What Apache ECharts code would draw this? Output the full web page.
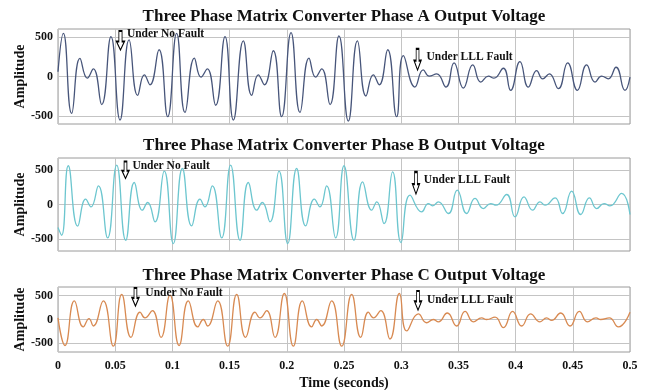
<!DOCTYPE html>
<html><head><meta charset="utf-8">
<script src="https://cdn.jsdelivr.net/npm/echarts@6/dist/echarts.min.js"></script>
<style>html,body{margin:0;padding:0;background:#fff}#c{width:648px;height:390px}</style>
</head><body><div id="c"></div>
<script>
const titles = [
  'Three Phase Matrix Converter Phase A Output Voltage',
  'Three Phase Matrix Converter Phase B Output Voltage',
  'Three Phase Matrix Converter Phase C Output Voltage'
];
const yTicks = [-500, 0, 500];
const xTicks = [0, 0.05, 0.1, 0.15, 0.2, 0.25, 0.3, 0.35, 0.4, 0.45, 0.5];
const yName = 'Amplitude';
const xName = 'Time (seconds)';
const noFaultText = 'Under No Fault';
const faultText = 'Under LLL Fault';

const phaseA = [[0,60],[0.0047,546],[0.0119,-467],[0.0192,229],[0.0256,-21],[0.0309,96],[0.0382,-354],[0.0463,504],[0.0542,-550],[0.0621,463],[0.0696,-238],[0.0755,21],[0.0804,-104],[0.0883,338],[0.0959,-508],[0.1037,546],[0.1110,-454],[0.1192,233],[0.1250,-8],[0.1305,96],[0.1378,-363],[0.1460,504],[0.1533,-550],[0.1620,450],[0.1693,-238],[0.1751,21],[0.1804,-104],[0.1882,325],[0.1955,-508],[0.2037,554],[0.2115,-454],[0.2194,233],[0.2252,-8],[0.2305,96],[0.2378,-354],[0.2456,513],[0.2538,-563],[0.2617,450],[0.2692,-246],[0.2756,21],[0.2808,-104],[0.2882,338],[0.2960,-508],[0.3019,263],[0.3120,-133],[0.3192,83],[0.3245,4],[0.3310,33],[0.3392,-133],[0.3462,171],[0.3543,-146],[0.3625,146],[0.3695,-71],[0.3762,4],[0.3811,-21],[0.3893,104],[0.3957,-175],[0.4038,188],[0.4111,-133],[0.4184,75],[0.4237,-29],[0.4295,33],[0.4374,-154],[0.4455,171],[0.4540,-175],[0.4621,146],[0.4694,-71],[0.4752,4],[0.4810,-29],[0.4878,117],[0.4956,-175],[0.5,-8]];
const phaseB = [[0,-330],[0.0032,-443],[0.0090,558],[0.0172,-313],[0.0242,77],[0.0288,-34],[0.0353,269],[0.0434,-481],[0.0513,568],[0.0592,-515],[0.0667,317],[0.0737,-82],[0.0784,29],[0.0848,-250],[0.0929,481],[0.1008,-563],[0.1087,519],[0.1168,-308],[0.1241,77],[0.1285,-34],[0.1349,269],[0.1431,-481],[0.1509,568],[0.1591,-515],[0.1664,317],[0.1737,-82],[0.1786,29],[0.1853,-250],[0.1932,481],[0.2008,-563],[0.2086,519],[0.2165,-308],[0.2241,77],[0.2290,-34],[0.2348,269],[0.2427,-481],[0.2500,558],[0.2587,-515],[0.2663,327],[0.2742,-82],[0.2786,38],[0.2850,-274],[0.2925,471],[0.2998,-548],[0.3077,135],[0.3179,-106],[0.3237,14],[0.3275,-19],[0.3325,38],[0.3412,-130],[0.3490,207],[0.3572,-130],[0.3645,87],[0.3718,-58],[0.3782,14],[0.3829,-10],[0.3922,144],[0.3995,-178],[0.4073,111],[0.4149,-82],[0.4213,38],[0.4257,-10],[0.4345,96],[0.4411,-130],[0.4490,192],[0.4569,-144],[0.4645,96],[0.4709,-58],[0.4773,14],[0.4825,-19],[0.4927,159],[0.5,-144]];
const phaseC = [[0,34],[0.0061,-544],[0.0143,388],[0.0221,-156],[0.0271,20],[0.0309,-136],[0.0396,388],[0.0484,-558],[0.0557,524],[0.0638,-374],[0.0717,156],[0.0760,34],[0.0825,184],[0.0900,-374],[0.0979,510],[0.1058,-544],[0.1139,388],[0.1221,-156],[0.1270,0],[0.1308,-136],[0.1396,388],[0.1483,-558],[0.1562,524],[0.1640,-374],[0.1722,156],[0.1766,34],[0.1824,184],[0.1897,-374],[0.1978,544],[0.2057,-558],[0.2136,388],[0.2217,-156],[0.2261,0],[0.2305,-136],[0.2392,388],[0.2480,-558],[0.2567,524],[0.2646,-374],[0.2713,156],[0.2757,34],[0.2821,184],[0.2902,-408],[0.2984,544],[0.3048,-238],[0.3150,116],[0.3222,-68],[0.3280,0],[0.3325,-48],[0.3403,136],[0.3485,-136],[0.3558,170],[0.3631,-48],[0.3703,34],[0.3747,0],[0.3820,48],[0.3893,-170],[0.3974,170],[0.4053,-136],[0.4131,116],[0.4213,-48],[0.4271,34],[0.4315,-20],[0.4394,136],[0.4476,-136],[0.4557,170],[0.4627,-48],[0.4703,34],[0.4744,0],[0.4819,34],[0.4898,-156],[0.5,150]];

// annotation anchor points in data space: [time, value]
const noFaultPos = [[0.0546, 455], [0.0590, 497], [0.0677, 471]];
const faultPos = [[0.3143, 215], [0.3129, 310], [0.3147, 398]];

const FONT = 'Liberation Serif';
const colors = ['#47557a', '#6cc6cf', '#d88a52'];
const series = [phaseA, phaseB, phaseC];
const grids = [
  {left: 58, right: 18, top: 29, height: 95},
  {left: 58, right: 18, top: 158, height: 93},
  {left: 58, right: 18, top: 287, height: 65}
];
const yRanges = [[-600, 600], [-670, 670], [-680, 680]];
const titleTops = [8, 137, 267];
const arrowPath = 'path://M3,0 L7,0 L7,11 L10,11 L5,20 L0,11 L3,11 Z';
const arrowSizes = [[[8,19],[7,21]], [[7,17],[7,22]], [[7,18],[7,19]]];
const labelTweaks = [[[2,-6],[5,-2]], [[3,-4],[4,-3]], [[6,-4],[5,0]]];

const chart = echarts.init(document.getElementById('c'), null, {renderer: 'canvas'});
const option = {
  animation: false,
  backgroundColor: '#fff',
  title: titles.map((t, i) => ({
    text: t, left: 344, top: titleTops[i], textAlign: 'center', padding: 0,
    textStyle: {fontFamily: FONT, fontWeight: 'bold', fontSize: 17, color: '#111'}
  })),
  grid: grids.map(g => Object.assign({show: true, borderColor: '#9a9a9a', borderWidth: 1, backgroundColor: '#fff', outerBoundsMode: 'none', containLabel: false}, g)),
  xAxis: grids.map((g, i) => ({
    type: 'value', gridIndex: i, min: 0, max: 0.5, interval: 0.05,
    axisLine: {show: false}, axisTick: {show: false},
    axisLabel: {show: i === 2, fontFamily: FONT, fontWeight: 'bold', fontSize: 12, color: '#111', margin: 8,
      formatter: v => { const k = xTicks.find(x => Math.abs(x - v) < 1e-9); return k === undefined ? '' : String(k); }},
    splitLine: {show: true, lineStyle: {color: '#c4c4c4', width: 1}},
    name: i === 2 ? xName : '', nameLocation: 'middle', nameGap: 24, nameMoveOverlap: false,
    nameTextStyle: {fontFamily: FONT, fontWeight: 'bold', fontSize: 14, color: '#111'}
  })),
  yAxis: grids.map((g, i) => ({
    type: 'value', gridIndex: i, min: yRanges[i][0], max: yRanges[i][1],
    axisLine: {show: false},
    axisTick: {show: false, customValues: yTicks},
    axisLabel: {show: true, customValues: yTicks, fontFamily: FONT, fontWeight: 'bold', fontSize: 12, color: '#111', margin: 5},
    splitLine: {show: true, lineStyle: {color: '#c4c4c4', width: 1}},
    name: yName, nameLocation: 'middle', nameGap: 31, nameRotate: 90, nameMoveOverlap: false,
    nameTextStyle: {fontFamily: FONT, fontWeight: 'bold', fontSize: 14, color: '#111'}
  })),
  series: series.map((d, i) => ({
    type: 'line', xAxisIndex: i, yAxisIndex: i, data: d,
    showSymbol: false, smooth: 0.5, clip: true,
    lineStyle: {color: colors[i], width: 1.3},
    markPoint: {
      symbol: arrowPath, symbolKeepAspect: false, silent: true,
      itemStyle: {color: '#fff', borderColor: '#000', borderWidth: 1.3},
      label: {show: true, position: 'right', fontFamily: FONT, fontWeight: 'bold', fontSize: 11.5, color: '#111'},
      data: [
        {coord: noFaultPos[i], symbolSize: arrowSizes[i][0],
         label: {formatter: noFaultText, distance: labelTweaks[i][0][0], offset: [0, labelTweaks[i][0][1]]}},
        {coord: faultPos[i], symbolSize: arrowSizes[i][1],
         label: {formatter: faultText, distance: labelTweaks[i][1][0], offset: [0, labelTweaks[i][1][1]]}}
      ]
    }
  }))
};
chart.setOption(option);
</script></body></html>
